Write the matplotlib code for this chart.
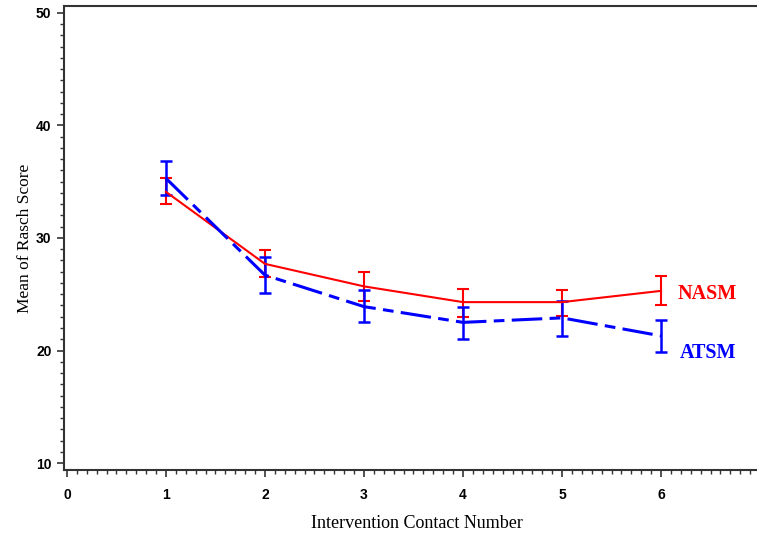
import matplotlib
matplotlib.use('Agg')
import matplotlib.pyplot as plt
from matplotlib.ticker import MultipleLocator

# Data
contact = [1, 2, 3, 4, 5, 6]
nasm_mean = [34.1, 27.7, 25.7, 24.3, 24.3, 25.3]
nasm_low = [33.0, 26.5, 24.4, 23.0, 23.1, 24.0]
nasm_high = [35.3, 28.9, 27.0, 25.5, 25.4, 26.6]
atsm_mean = [35.3, 26.7, 23.9, 22.5, 22.9, 21.3]
atsm_low = [33.8, 25.1, 22.5, 21.0, 21.3, 19.9]
atsm_high = [36.8, 28.3, 25.4, 23.9, 24.4, 22.7]

fig = plt.figure(figsize=(7.57, 5.38), dpi=100)
ax = fig.add_axes([0.0845, 0.1264, 0.9326, 0.8625])

def err(mean, low, high):
    return [[m - l for m, l in zip(mean, low)], [h - m for m, h in zip(mean, high)]]

ax.errorbar(contact, nasm_mean, yerr=err(nasm_mean, nasm_low, nasm_high),
            color='#ff0000', lw=1.5, elinewidth=1.5, capsize=4.3, capthick=1.5)
ax.errorbar(contact, atsm_mean, yerr=err(atsm_mean, atsm_low, atsm_high),
            color='#0000ff', lw=2.2, elinewidth=1.8, capsize=4.3, capthick=1.8,
            linestyle=(0, (10, 2.4, 3.5, 2.4)))

ax.text(6.17, 25.0, 'NASM', color='#ff0000', fontsize=14.5,
        fontweight='bold', family='Liberation Serif', va='center', ha='left')
ax.text(6.19, 19.75, 'ATSM', color='#0000ff', fontsize=14.5,
        fontweight='bold', family='Liberation Serif', va='center', ha='left')

ax.set_xlim(-0.03, 7.10)
ax.set_ylim(9.38, 50.62)
ax.xaxis.set_major_locator(MultipleLocator(1))
ax.xaxis.set_minor_locator(MultipleLocator(0.1))
ax.yaxis.set_major_locator(MultipleLocator(10))
ax.yaxis.set_minor_locator(MultipleLocator(1))
ax.tick_params(which='major', length=5, width=1.2, color='#333333')
ax.tick_params(which='minor', length=3, width=1.0, color='#333333')
ax.tick_params(axis='x', which='major', pad=8)
ax.tick_params(axis='y', which='major', pad=4)
for lab in ax.get_xticklabels() + ax.get_yticklabels():
    lab.set_fontweight('bold')
    lab.set_fontsize(10)
    lab.set_family('Liberation Sans')
for s in ax.spines.values():
    s.set_linewidth(1.5)
    s.set_color('#333333')

ax.set_xlabel('Intervention Contact Number', family='Liberation Serif',
              fontsize=13, labelpad=9)
ax.set_ylabel('Mean of Rasch Score', family='Liberation Serif',
              fontsize=12.5, labelpad=2)

fig.savefig('out.png', dpi=100)
